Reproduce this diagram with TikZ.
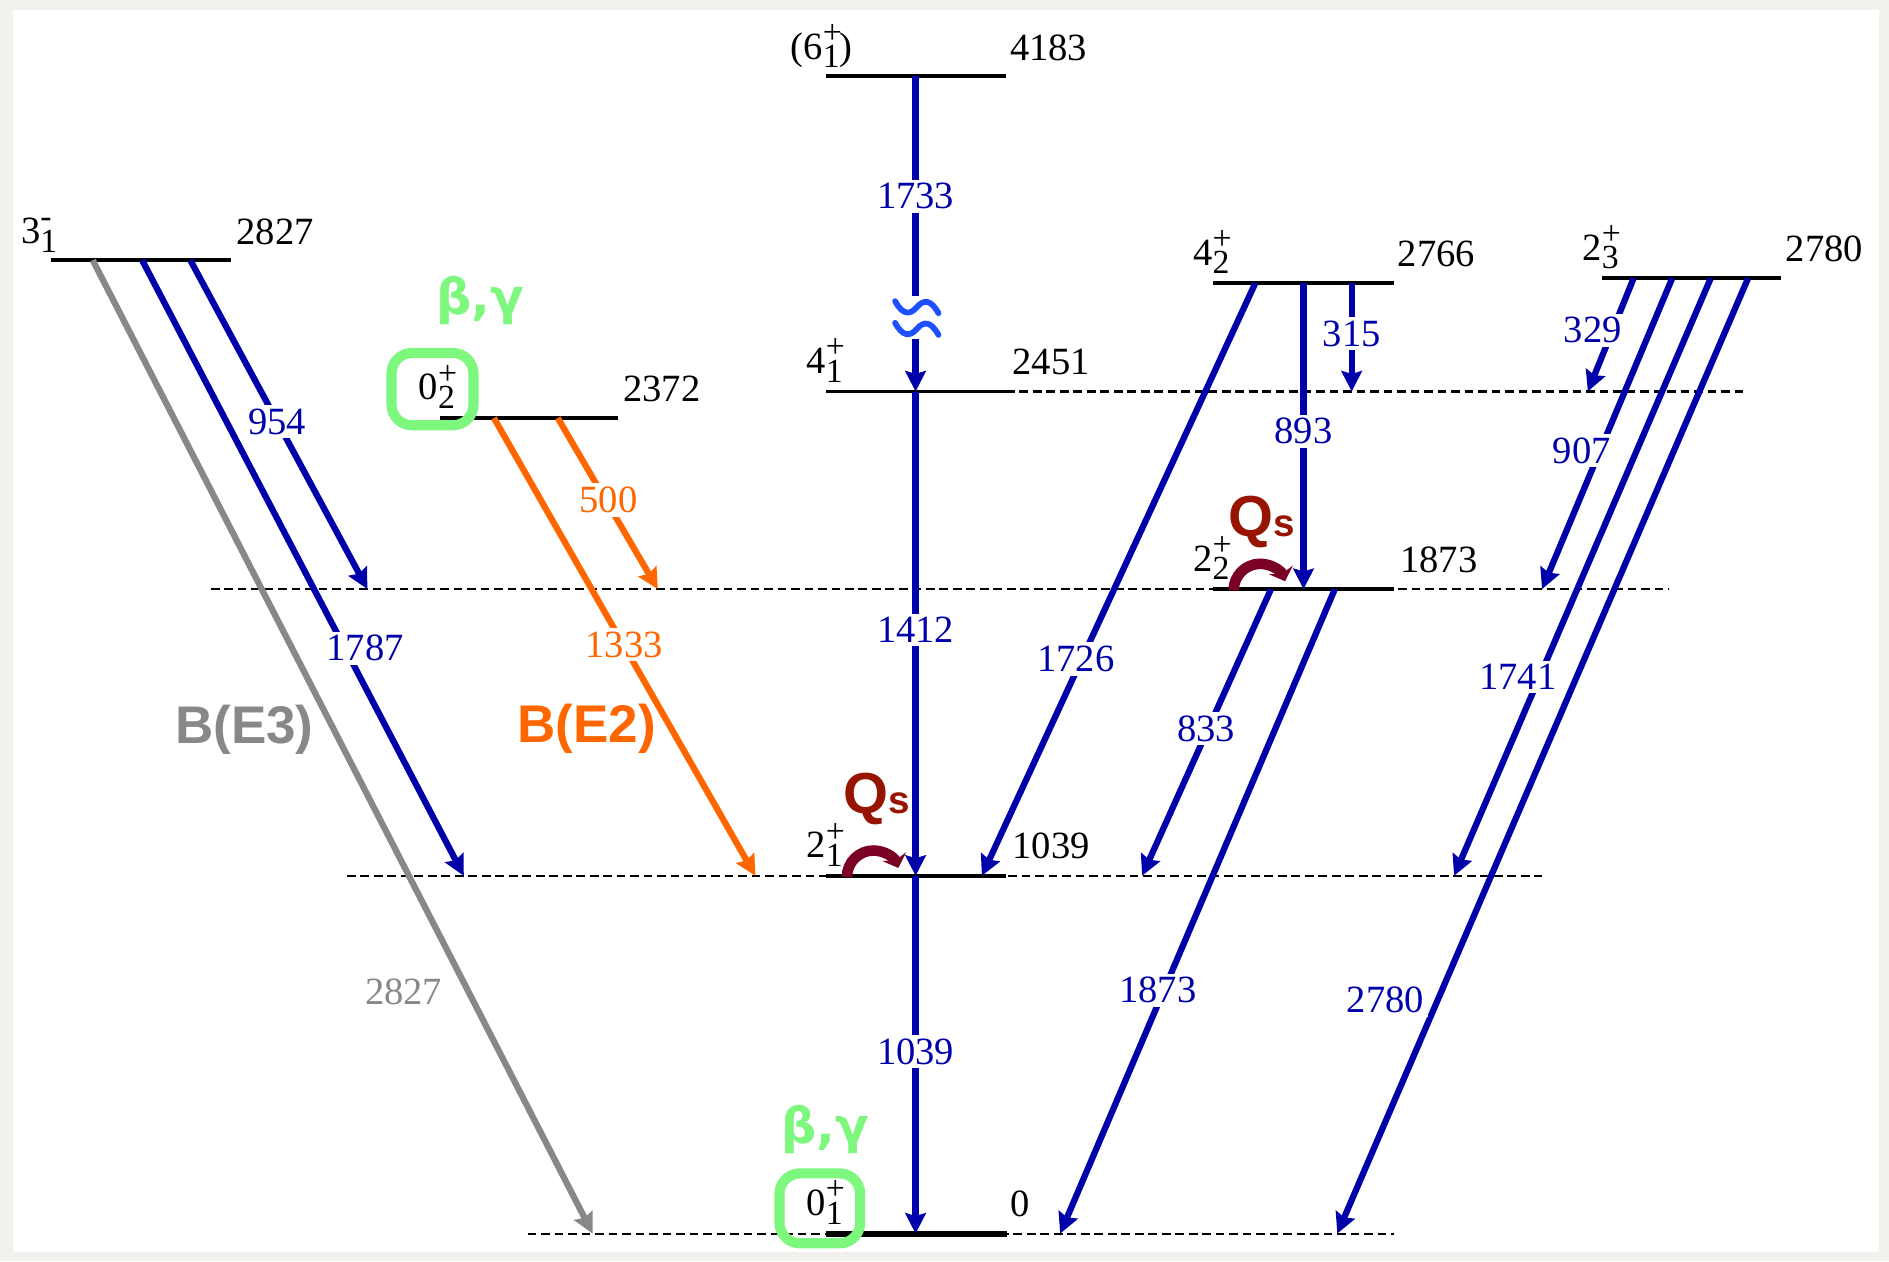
\documentclass[tikz,border=0pt]{standalone}
\usepackage{fontspec}
\setmainfont{Liberation Serif}
\setsansfont{Liberation Sans}
\newfontfamily\greekfont{DejaVu Sans}
\usetikzlibrary{arrows.meta}

\definecolor{paper}{RGB}{242,241,238}
\definecolor{trblue}{RGB}{0,0,170}
\definecolor{trorange}{RGB}{255,102,0}
\definecolor{trgray}{RGB}{136,136,136}
\definecolor{qsred}{RGB}{150,20,0}
\definecolor{qsarc}{RGB}{122,0,36}
\definecolor{bygreen}{RGB}{125,247,125}
\definecolor{brkblue}{RGB}{30,80,255}

% spin-parity label: value with stacked superscript and subscript
\newcommand{\jp}[3]{#1\rlap{\raisebox{6.5pt}{\fontsize{14}{14}\selectfont #2}}\raisebox{-3.6pt}{\fontsize{14}{14}\selectfont #3}}

\begin{document}
\begin{tikzpicture}[x=0.5pt,y=-0.5pt,
  lvl/.style={line width=1.6pt,line cap=butt},
  gnd/.style={line width=2.6pt},
  dlvl/.style={line width=0.9pt,dash pattern=on 3.6pt off 2pt},
  gam/.style={line width=2.6pt,draw=trblue,-{Stealth[length=8.5pt,width=8.5pt,inset=1.2pt]}},
  ge2/.style={gam,draw=trorange},
  ge3/.style={gam,draw=trgray},
  en/.style={font=\fontsize{16}{16}\selectfont,inner sep=0pt,anchor=base west},
  jpl/.style={font=\fontsize{16}{16}\selectfont,inner sep=0pt,anchor=base east},
  glab/.style={font=\fontsize{16}{16}\selectfont,text=trblue,fill=white,inner sep=1.5pt},
  olab/.style={glab,text=trorange},
  qstext/.style={text=qsred,inner sep=0pt,anchor=base west,font=\sffamily\bfseries},
  qsloop/.style={draw=qsarc,line width=4.4pt,-{Stealth[length=5pt,width=10.5pt]}},
  bybox/.style={draw=bygreen,line width=4.2pt,rounded corners=8.5pt,inner sep=0pt},
  bytext/.style={text=bygreen,inner sep=0pt,anchor=base west,font=\greekfont\bfseries\fontsize{20.5}{20.5}\selectfont},
  bval/.style={inner sep=0pt,anchor=base west,font=\sffamily\bfseries\fontsize{22}{22}\selectfont}
]
% paper and panel
\fill[paper] (0,0) rectangle (1568,1047);
\fill[white] (11,8) rectangle (1560,1039);
\useasboundingbox (0,0) rectangle (1568,1047);

% guide lines at the level energies
\draw[dlvl] (835,325) -- (1450,325);
\draw[dlvl] (175,489) -- (1385,489);
\draw[dlvl] (288,727) -- (1280,727);
\draw[dlvl] (438,1024) -- (1157,1024);

% levels
\coordinate (g6a) at (686,63);   \coordinate (g6b) at (835,63);
\coordinate (g4a) at (686,325);  \coordinate (g4b) at (835,325);
\coordinate (g2a) at (686,727);  \coordinate (g2b) at (835,727);
\coordinate (g0a) at (686,1024); \coordinate (g0b) at (836,1024);
\coordinate (o3a) at (42,216);   \coordinate (o3b) at (192,216);
\coordinate (b0a) at (365,347);  \coordinate (b0b) at (513,347);
\coordinate (q4a) at (1007,235); \coordinate (q4b) at (1157,235);
\coordinate (q2a) at (1007,489); \coordinate (q2b) at (1157,489);
\coordinate (q3a) at (1330,231); \coordinate (q3b) at (1478,231);
\draw[lvl] (g6a) -- (g6b);
\draw[lvl] (g4a) -- (g4b);
\draw[lvl] (g2a) -- (g2b);
\draw[gnd] (g0a) -- (g0b);
\draw[lvl] (o3a) -- (o3b);
\draw[lvl] (b0a) -- (b0b);
\draw[lvl] (q4a) -- (q4b);
\draw[lvl] (q2a) -- (q2b);
\draw[lvl] (q3a) -- (q3b);

% level labels
\node[jpl] (j6) at (708,49) {(\jp{6}{+}{1})};
\node[en]  (e6) at (838,50) {4183};
\node[jpl] (j4) at (700,310) {\jp{4}{+}{1}};
\node[en]  (e4) at (840,311) {2451};
\node[jpl] (j2) at (700,712) {\jp{2}{+}{1}};
\node[en]  (e2) at (840,713) {1039};
\node[jpl] (j0) at (700,1009) {\jp{0}{+}{1}};
\node[en]  (e0) at (838,1010) {0};
\node[jpl] (j3m) at (48,202) {\jp{3}{-}{1}};
\node[en]  (e3m) at (196,203) {2827};
\node[jpl] (j02) at (378,332) {\jp{0}{+}{2}};
\node[en]  (e02) at (517,333) {2372};
\node[jpl] (j42) at (1021,220) {\jp{4}{+}{2}};
\node[en]  (e42) at (1160,221) {2766};
\node[jpl] (j22) at (1021,474) {\jp{2}{+}{2}};
\node[en]  (e22) at (1162,475) {1873};
\node[jpl] (j23) at (1344,216) {\jp{2}{+}{3}};
\node[en]  (e23) at (1482,217) {2780};

% transition end points
\coordinate (s1733) at (760,63);   \coordinate (t1733) at (760,325);
\coordinate (s1412) at (760,325);  \coordinate (t1412) at (760,727);
\coordinate (s1039) at (760,727);  \coordinate (t1039) at (760,1024);
\coordinate (s2827) at (77,216);   \coordinate (t2827) at (492,1024);
\coordinate (s1787) at (118,216);  \coordinate (t1787) at (385,727);
\coordinate (s954)  at (158,216);  \coordinate (t954)  at (305,489);
\coordinate (s1333) at (410,347);  \coordinate (t1333) at (627,727);
\coordinate (s500)  at (463,347);  \coordinate (t500)  at (546,489);
\coordinate (s1726) at (1042,235); \coordinate (t1726) at (815,727);
\coordinate (s893)  at (1082,235); \coordinate (t893)  at (1082,489);
\coordinate (s315)  at (1122,235); \coordinate (t315)  at (1122,325);
\coordinate (s833)  at (1055,489); \coordinate (t833)  at (948,727);
\coordinate (s1873) at (1108,489); \coordinate (t1873) at (880,1024);
\coordinate (s329)  at (1356,231); \coordinate (t329)  at (1318,325);
\coordinate (s907)  at (1388,231); \coordinate (t907)  at (1280,489);
\coordinate (s1741) at (1420,231); \coordinate (t1741) at (1207,727);
\coordinate (s2780) at (1451,231); \coordinate (t2780) at (1110,1024);

% gamma transitions
\draw[gam] (s1733) -- (t1733);
\draw[gam] (s1412) -- (t1412);
\draw[gam] (s1039) -- (t1039);
\draw[ge3] (s2827) -- (t2827);
\draw[gam] (s1787) -- (t1787);
\draw[gam] (s954) -- (t954);
\draw[ge2] (s1333) -- (t1333);
\draw[ge2] (s500) -- (t500);
\draw[gam] (s1726) -- (t1726);
\draw[gam] (s893) -- (t893);
\draw[gam] (s315) -- (t315);
\draw[gam] (s833) -- (t833);
\draw[gam] (s1873) -- (t1873);
\draw[gam] (s329) -- (t329);
\draw[gam] (s907) -- (t907);
\draw[gam] (s1741) -- (t1741);
\draw[gam] (s2780) -- (t2780);

% energies of the transitions
\node[glab] (l1733) at (760,163) {1733};
\node[glab] (l1412) at (760,523) {1412};
\node[glab] (l1039) at (760,873) {1039};
\node[font=\fontsize{16}{16}\selectfont,text=trgray,inner sep=0pt] (l2827) at (335,823) {2827};
\node[glab] (l1787) at (303,538) {1787};
\node[glab] (l954)  at (230,350) {954};
\node[olab] (l1333) at (518,535) {1333};
\node[olab] (l500)  at (505,415) {500};
\node[glab] (l1726) at (893,547) {1726};
\node[glab] (l893)  at (1082,358) {893};
\node[glab] (l315)  at (1122,277) {315};
\node[glab] (l833)  at (1001,605) {833};
\node[glab] (l1873) at (961,822) {1873};
\node[glab] (l329)  at (1322,274) {329};
\node[glab] (l907)  at (1313,374) {907};
\node[glab] (l1741) at (1260,562) {1741};
\node[glab] (l2780) at (1150,830) {2780};

% break mark on the 6+ -> 4+ line
\fill[white] (750,246) rectangle (770,281);
\begin{scope}[shift={(761,255)},line width=2.4pt,line cap=round]
  \draw[brkblue] (-18,-5) .. controls (-12,6) and (-6,7) .. (0,0) .. controls (6,-7) and (12,-6) .. (18,5);
\end{scope}
\begin{scope}[shift={(761,273)},line width=2.4pt,line cap=round]
  \draw[brkblue] (-18,-5) .. controls (-12,6) and (-6,7) .. (0,0) .. controls (6,-7) and (12,-6) .. (18,5);
\end{scope}

% quadrupole moment markers
\coordinate (qc1) at (725,728);
\coordinate (qc2) at (1046,490);
\draw[qsloop] (qc1) ++(-22,0) arc[start angle=180,end angle=20,radius=11pt];
\draw[qsloop] (qc2) ++(-22,0) arc[start angle=180,end angle=20,radius=11pt];
\node[qstext] (qs1) at (700,675) {\fontsize{24}{24}\selectfont Q\fontsize{16}{16}\selectfont s};
\node[qstext] (qs2) at (1019,445) {\fontsize{24}{24}\selectfont Q\fontsize{16}{16}\selectfont s};

% shape-parameter markers
\node[bybox,minimum width=34pt,minimum height=30pt] (box02) at (359,323) {};
\node[bybox,minimum width=33.5pt,minimum height=29pt] (box01) at (680.5,1003) {};
\node[bytext] (by02) at (362,261) {β,γ};
\node[bytext] (by01) at (648,949) {β,γ};

% reduced transition strengths
\node[bval,text=trgray] (be3) at (145,617) {B(E3)};
\node[bval,text=trorange] (be2) at (429,616) {B(E2)};
\end{tikzpicture}
\end{document}
